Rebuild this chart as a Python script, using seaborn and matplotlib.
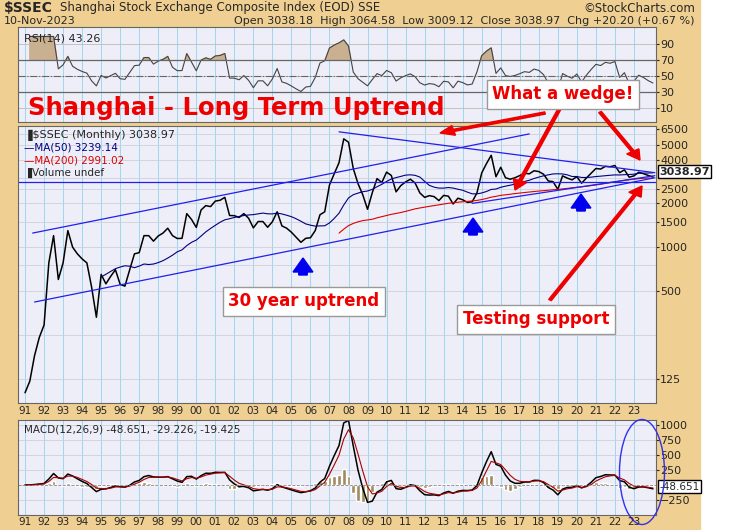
import numpy as np
import pandas as pd
import seaborn as sns
import matplotlib.pyplot as plt
from matplotlib.patches import Rectangle, Ellipse, FancyArrow

# quarterly closes of $SSEC (end 1990 .. Nov 2023)
closes = [100,
          120, 180, 240, 292,
          780, 1200, 600, 780,
          1300, 1000, 900, 830,
          780, 530, 330, 650,
          560, 630, 700, 555,
          540, 700, 900, 917,
          1200, 1200, 1100, 1194,
          1250, 1350, 1200, 1147,
          1150, 1700, 1550, 1367,
          1800, 1930, 1900, 2073,
          2100, 2200, 1650, 1646,
          1600, 1700, 1580, 1357,
          1500, 1500, 1370, 1497,
          1750, 1400, 1350, 1266,
          1170, 1080, 1150, 1161,
          1300, 1670, 1750, 2675,
          3200, 3800, 5550, 5262,
          3470, 2730, 2290, 1820,
          2370, 2960, 2780, 3277,
          3110, 2400, 2650, 2808,
          2930, 2760, 2360, 2199,
          2260, 2225, 2090, 2269,
          2240, 1980, 2170, 2116,
          2030, 2050, 2360, 3235,
          3750, 4280, 3050, 3539,
          3000, 2930, 3000, 3104,
          3220, 3190, 3350, 3307,
          3170, 2850, 2820, 2494,
          3090, 2980, 2900, 3050,
          2750, 2985, 3220, 3473,
          3440, 3590, 3570, 3640,
          3250, 3400, 3025, 3089,
          3270, 3200, 3110, 3039]
years = list(range(1991, 2024))
year_labels = [f"{y % 100:02d}" for y in years]

# trendlines drawn on the chart (decimal year, index level)
upper_channel = ([1991.4, 2017.5], [1250, 6000])
lower_channel = ([1991.5, 2024.1], [420, 3000])
falling_line = ([2007.5, 2024.1], [6200, 3250])
wedge_bottom = ([2014.5, 2024.1], [2000, 3100])
support_level = 2800

df = pd.DataFrame({"t": 1991 + 0.25 * np.arange(len(closes)), "close": closes})
df["ma50"] = df["close"].rolling(17).mean()
df["ma200"] = df["close"].rolling(67).mean()
d = df["close"].diff()
up = d.clip(lower=0).ewm(alpha=1 / 7, adjust=False).mean()
dn = (-d.clip(upper=0)).ewm(alpha=1 / 7, adjust=False).mean()
df["rsi"] = 100 - 100 / (1 + up / dn)
df["macd"] = df["close"].ewm(span=4).mean() - df["close"].ewm(span=9).mean()
df["signal"] = df["macd"].ewm(span=3).mean()
df["hist"] = df["macd"] - df["signal"]

sns.set_style("white")
plt.rcParams["font.family"] = ["DejaVu Sans"]
tan = "#f0d092"
face = "#eeeef8"

fig = plt.figure(figsize=(7.5, 5.3), dpi=100)
fig.patches.append(Rectangle((0, 0), 700 / 750, 1, transform=fig.transFigure, color=tan, zorder=-10))

L, W = 18 / 750, 638 / 750
ax_rsi = fig.add_axes([L, 1 - 122 / 530, W, 95 / 530])
ax = fig.add_axes([L, 1 - 403 / 530, W, 277 / 530])
ax_m = fig.add_axes([L, 1 - 515 / 530, W, 95 / 530])
xl = (1990.63, 2024.16)

for a in (ax_rsi, ax, ax_m):
    a.set_facecolor(face)
    a.set_xlim(*xl)
    for y in years:
        a.axvline(y, color="#9fd6f0", lw=0.7, zorder=0)
    a.yaxis.tick_right()
    a.tick_params(axis="y", labelsize=8, length=2, pad=1)
    a.set_xticks([])
    for s in a.spines.values():
        s.set_color("#666666")

# RSI panel
sns.lineplot(data=df, x="t", y="rsi", ax=ax_rsi, color="#444444", lw=0.8)
ax_rsi.fill_between(df["t"], df["rsi"], 70, where=df["rsi"] > 70, color="#c8b090", interpolate=True)
ax_rsi.set_ylim(-8, 112)
ax_rsi.set_yticks([10, 30, 50, 70, 90])
for v in (10, 30, 50, 70, 90):
    ax_rsi.axhline(v, color="#bbbbbb", lw=0.6, zorder=0)
ax_rsi.axhline(70, color="#666666", lw=0.9)
ax_rsi.axhline(30, color="#666666", lw=0.9)
ax_rsi.axhline(50, color="#666666", lw=0.8, ls="-.")
ax_rsi.set_xlabel(""); ax_rsi.set_ylabel("")
ax_rsi.text(0.01, 0.93, "RSI(14) 43.26", transform=ax_rsi.transAxes, fontsize=8, va="top")
ax_rsi.text(0.015, 0.15, "Shanghai - Long Term Uptrend", transform=ax_rsi.transAxes,
            fontsize=17.5, color="#ee0000", weight="bold", va="center")

# price panel
ax.set_yscale("log")
ax.set_ylim(85, 6800)
pt = [125, 500, 1000, 1500, 2000, 2500, 4000, 5000, 6500]
ax.set_yticks(pt)
ax.set_yticklabels([str(v) for v in pt])
ax.minorticks_off()
for v in [125, 250, 500, 750, 1000, 1500, 2000, 2500, 3000, 4000, 5000, 6000]:
    ax.axhline(v, color="#cfcfdc", lw=0.6, zorder=0)
sns.lineplot(data=df, x="t", y="close", ax=ax, color="black", lw=1.1)
sns.lineplot(data=df, x="t", y="ma50", ax=ax, color="#000080", lw=0.8)
sns.lineplot(data=df, x="t", y="ma200", ax=ax, color="#dd0000", lw=0.8)
for xs, ys in (upper_channel, lower_channel, falling_line, wedge_bottom):
    ax.plot(xs, ys, color="#2020ee", lw=0.9)
ax.axhline(support_level, color="#2020ee", lw=0.9)
ax.set_xlabel(""); ax.set_ylabel("")
ax.text(0.01, 0.985, "\u2590$SSEC (Monthly) 3038.97", transform=ax.transAxes, fontsize=8, va="top")
ax.text(0.01, 0.94, "\u2014MA(50) 3239.14", transform=ax.transAxes, fontsize=7.5, va="top", color="#000080")
ax.text(0.01, 0.895, "\u2014MA(200) 2991.02", transform=ax.transAxes, fontsize=7.5, va="top", color="#dd0000")
ax.text(0.01, 0.85, "\u2590Volume undef", transform=ax.transAxes, fontsize=7.5, va="top")
ax.text(1.005, 0.835, "3038.97", transform=ax.transAxes, fontsize=8, weight="bold", va="center",
        bbox=dict(facecolor="white", edgecolor="black", pad=1))

# MACD panel
ax_m.bar(df["t"], df["hist"], width=0.2, color="#a08a60")
sns.lineplot(data=df, x="t", y="macd", ax=ax_m, color="black", lw=1.1)
sns.lineplot(data=df, x="t", y="signal", ax=ax_m, color="#aa0000", lw=0.8)
ax_m.set_ylim(-500, 1083)
ax_m.set_yticks([-250, 250, 500, 750, 1000])
for v in (-250, 0, 250, 500, 750, 1000):
    ax_m.axhline(v, color="#cfcfdc", lw=0.6, zorder=0)
ax_m.axhline(0, color="#888888", lw=0.6, ls="--")
ax_m.set_xlabel(""); ax_m.set_ylabel("")
ax_m.text(0.01, 0.95, "MACD(12,26,9) -48.651, -29.226, -19.425", transform=ax_m.transAxes,
          fontsize=7.5, va="top")
ax_m.text(1.005, 0.30, "-48.651", transform=ax_m.transAxes, fontsize=7.5, va="center",
          bbox=dict(facecolor="white", edgecolor="black", pad=1))

# year labels under price and MACD panels
for yy, lab in zip(years, year_labels):
    fig.text((25 + (yy - 1991) * 19.03) / 750, 1 - 411 / 530, lab, fontsize=7.5, ha="center", va="center")
    fig.text((25 + (yy - 1991) * 19.03) / 750, 1 - 522 / 530, lab, fontsize=7.5, ha="center", va="center")

# header
fig.text(4 / 750, 1 - 8 / 530, "$SSEC", fontsize=10, weight="bold", va="center")
fig.text(60 / 750, 1 - 8 / 530, "Shanghai Stock Exchange Composite Index (EOD) SSE", fontsize=8.5, va="center")
fig.text(695 / 750, 1 - 8 / 530, "\u00a9StockCharts.com", fontsize=8.5, va="center", ha="right")
fig.text(4 / 750, 1 - 21 / 530, "10-Nov-2023", fontsize=8, va="center")
fig.text(695 / 750, 1 - 21 / 530, "Open 3038.18  High 3064.58  Low 3009.12  Close 3038.97  Chg +20.20 (+0.67 %)",
         fontsize=8, va="center", ha="right")

# annotation boxes
def box(x, y, s, size):
    fig.text(x / 750, 1 - y / 530, s, fontsize=size, color="#ee0000", weight="bold", va="center",
             bbox=dict(facecolor="white", edgecolor="#999999", pad=4))

box(492, 94, "What a wedge!", 12)
box(228, 301, "30 year uptrend", 12)
box(463, 319, "Testing support", 12)

def arrow(x0, y0, x1, y1, color="#ee0000", w=2.2, hw=10):
    fig.patches.append(FancyArrow(x0 / 750, 1 - y0 / 530, (x1 - x0) / 750, -(y1 - y0) / 530,
                                  width=w / 530, head_width=hw / 530, head_length=hw / 530,
                                  length_includes_head=True, color=color, transform=fig.transFigure))

arrow(545, 113, 440, 133)
arrow(560, 108, 515, 190)
arrow(600, 112, 640, 160)
arrow(550, 300, 642, 186)
for bx, by in ((303, 258), (473, 218), (581, 194)):
    arrow(bx, by + 17, bx, by, color="#0000ee", w=6, hw=14)

fig.patches.append(Ellipse((642 / 750, 1 - 472 / 530), 45 / 750, 105 / 530, fill=False,
                           edgecolor="#3030ee", lw=1, transform=fig.transFigure))

fig.savefig("out.png", dpi=100)
